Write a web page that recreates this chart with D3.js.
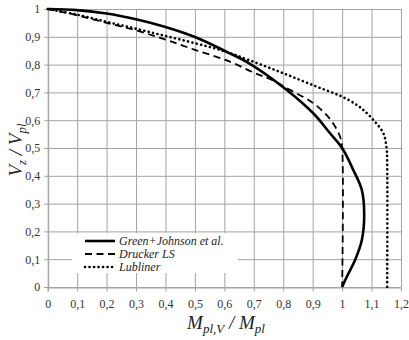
<!DOCTYPE html>
<html><head><meta charset="utf-8">
<script src="https://cdn.jsdelivr.net/npm/d3@7"></script>
<style>
html,body{margin:0;padding:0;background:#fff;}
svg{display:block;}
</style></head>
<body><svg id="c" width="409" height="340" font-family="Liberation Serif"></svg>
<script>
// ---- data ----
const xTicks = [0,0.1,0.2,0.3,0.4,0.5,0.6,0.7,0.8,0.9,1.0,1.1,1.2];
const xTickLabels = ["0","0,1","0,2","0,3","0,4","0,5","0,6","0,7","0,8","0,9","1","1,1","1,2"];
const yTicks = [0,0.1,0.2,0.3,0.4,0.5,0.6,0.7,0.8,0.9,1.0];
const yTickLabels = ["0","0,1","0,2","0,3","0,4","0,5","0,6","0,7","0,8","0,9","1"];

const seriesNames = ["Green+Johnson et al.","Drucker LS","Lubliner"];

// Green+Johnson et al. (M_pl,V/M_pl , V_z/V_pl)
const greenM = [0,0.10,0.20,0.30,0.40,0.50,0.608,0.687,0.812,0.902,0.959,1.0,1.038,1.067,1.075,1.067,1.044,1.016,1.0];
const greenV = [1,0.996,0.984,0.963,0.935,0.899,0.846,0.803,0.709,0.625,0.553,0.50,0.421,0.349,0.260,0.169,0.097,0.037,0];

// Drucker LS
const druckerM = [0,0.098,0.20,0.30,0.40,0.50,0.608,0.705,0.755,0.823,0.902,0.959,0.993,1.0,1.0];
const druckerV = [1,0.978,0.950,0.923,0.890,0.853,0.815,0.769,0.748,0.709,0.661,0.604,0.541,0.50,0];

// Lubliner
const lublinerM = [0,0.098,0.20,0.30,0.40,0.50,0.597,0.687,0.80,0.913,0.999,1.05,1.072,1.106,1.140,1.151,1.153,1.153];
const lublinerV = [1,0.980,0.954,0.929,0.903,0.877,0.849,0.815,0.769,0.721,0.685,0.655,0.637,0.601,0.553,0.499,0.45,0];

// ---- drawing ----
const FONT = "Liberation Serif";
const svg = d3.select("#c");
const x = d3.scaleLinear().domain([0,1.2]).range([47.7,401]);
const y = d3.scaleLinear().domain([0,1]).range([287,9]);
const gridCol = "#a3a3a3";

// gridlines
svg.append("g").selectAll("line").data(xTicks).join("line")
  .attr("x1",d=>x(d)+0.5).attr("x2",d=>x(d)+0.5)
  .attr("y1",y(1)).attr("y2",y(0))
  .attr("stroke",gridCol).attr("stroke-width",1);
svg.append("g").selectAll("line").data(yTicks).join("line")
  .attr("y1",d=>y(d)+0.5).attr("y2",d=>y(d)+0.5)
  .attr("x1",x(0)).attr("x2",x(1.2))
  .attr("stroke",gridCol).attr("stroke-width",1);

// axes
const xAxis = d3.axisBottom(x).tickValues(xTicks)
  .tickFormat((d,i)=>xTickLabels[i]).tickSize(4).tickPadding(8);
const yAxis = d3.axisLeft(y).tickValues(yTicks)
  .tickFormat((d,i)=>yTickLabels[i]).tickSize(4).tickPadding(4);
const gx = svg.append("g").attr("transform",`translate(0,${y(0)+0.5})`).call(xAxis);
const gy = svg.append("g").attr("transform",`translate(${x(0)+0.5},0)`).call(yAxis);
[gx,gy].forEach(g=>{
  g.attr("font-family",FONT);
  g.select(".domain").attr("stroke",gridCol);
  g.selectAll(".tick line").attr("stroke",gridCol);
  g.selectAll(".tick text").attr("font-family",FONT).attr("font-size",12).attr("fill","#333");
});

// legend background
svg.append("rect").attr("x",72).attr("y",233).attr("width",166).attr("height",40).attr("fill","#fff");

// curves
const line = d3.line().x(d=>x(d[0])).y(d=>y(d[1])).curve(d3.curveCatmullRom.alpha(0.5));
const styles = [
  {dash:null, w:2.6, cap:"butt"},
  {dash:"7,4.5", w:1.8, cap:"butt"},
  {dash:"0.1,4.4", w:2.6, cap:"round"}
];
const series = [
  d3.zip(greenM,greenV),
  d3.zip(druckerM,druckerV),
  d3.zip(lublinerM,lublinerV)
];
series.forEach((pts,i)=>{
  svg.append("path").attr("d",line(pts)).attr("fill","none")
    .attr("stroke","#000").attr("stroke-width",styles[i].w)
    .attr("stroke-dasharray",styles[i].dash).attr("stroke-linecap",styles[i].cap);
});

// legend
const leg = svg.append("g");
seriesNames.forEach((n,i)=>{
  const yy = 241 + i*13;
  leg.append("line").attr("x1",85).attr("x2",115).attr("y1",yy).attr("y2",yy)
    .attr("stroke","#000").attr("stroke-width",styles[i].w)
    .attr("stroke-dasharray",styles[i].dash).attr("stroke-linecap",styles[i].cap);
  leg.append("text").attr("x",119).attr("y",yy+4).attr("font-size",12)
    .attr("font-family",FONT).attr("fill","#222")
    .attr("font-style","italic").text(n);
});

// axis titles
const xt = svg.append("text").attr("x",226).attr("y",329).attr("text-anchor","middle")
  .attr("font-family",FONT).attr("fill","#222")
  .attr("font-size",19).attr("font-style","italic");
xt.append("tspan").text("M");
xt.append("tspan").attr("font-size",13).attr("dy",4).text("pl,V");
xt.append("tspan").attr("dy",-4).text(" / M");
xt.append("tspan").attr("font-size",13).attr("dy",4).text("pl");

const yt = svg.append("text").attr("transform","translate(22,150) rotate(-90)")
  .attr("font-family",FONT).attr("fill","#222")
  .attr("text-anchor","middle").attr("font-size",19).attr("font-style","italic");
yt.append("tspan").text("V");
yt.append("tspan").attr("font-size",13).attr("dy",4).text("z");
yt.append("tspan").attr("dy",-4).text(" / V");
yt.append("tspan").attr("font-size",13).attr("dy",4).text("pl");
</script></body></html>
